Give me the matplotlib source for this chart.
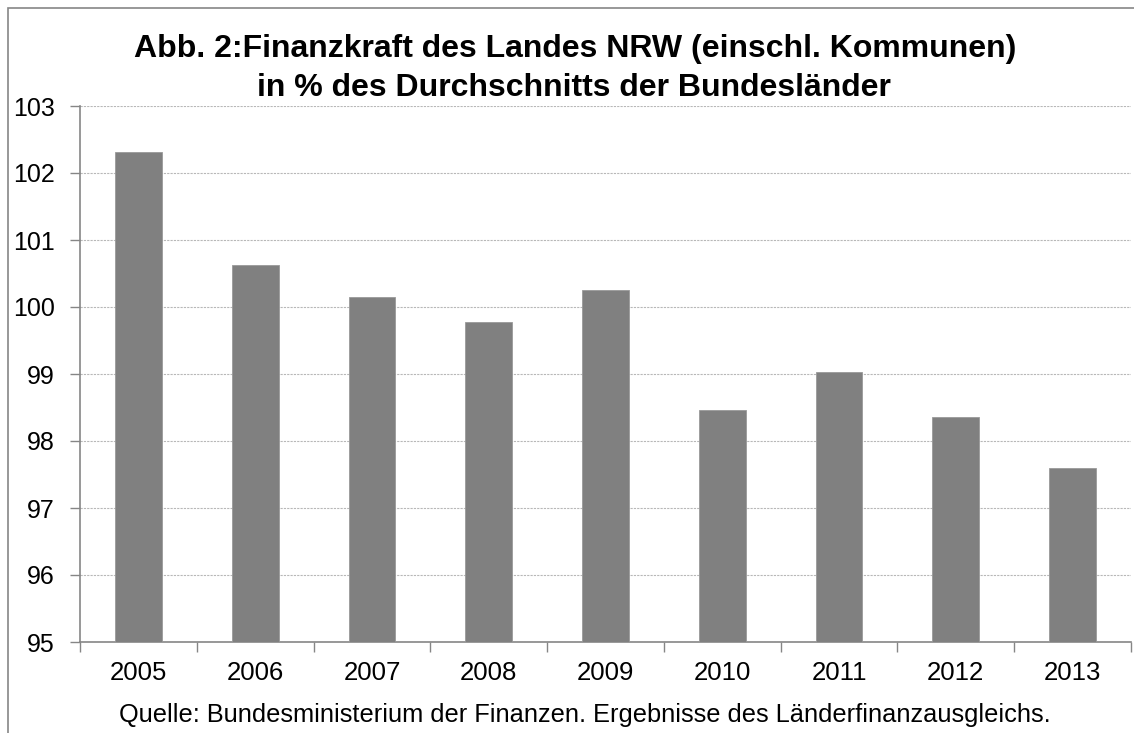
import matplotlib
matplotlib.use("Agg")
import matplotlib.pyplot as plt
from matplotlib.patches import Rectangle

years = ["2005", "2006", "2007", "2008", "2009", "2010", "2011", "2012", "2013"]
values = [102.31, 100.62, 100.15, 99.77, 100.25, 98.47, 99.03, 98.36, 97.59]
yticks = [95, 96, 97, 98, 99, 100, 101, 102, 103]

plt.rcParams['font.family'] = ['Liberation Sans', 'DejaVu Sans']

W, H = 1134, 733
fig = plt.figure(figsize=(W / 100, H / 100), dpi=100)
ax = fig.add_axes([80 / W, 1 - 642 / H, (1131 - 80) / W, (642 - 106) / H])

# bars from the baseline 95
x = range(len(years))
ax.bar(x, [v - 95 for v in values], bottom=95, width=0.4, color='#808080',
       edgecolor='#999999', linewidth=0.6, zorder=3)

ax.set_xlim(-0.5, len(years) - 0.5)
ax.set_ylim(95, 103)
ax.set_yticks(yticks)
ax.set_yticklabels([str(t) for t in yticks], fontsize=18)
ax.set_xticks(x)
ax.set_xticklabels(years, fontsize=18.5)
ax.set_xticks([i - 0.5 for i in range(len(years) + 1)], minor=True)

ax.tick_params(axis='x', which='major', length=0, pad=14)
ax.tick_params(axis='x', which='minor', length=7, color='#868686', width=1)
ax.tick_params(axis='y', length=7, color='#868686', width=1, pad=11)

ax.grid(axis='y', color='#b8b8b8', linestyle=(0, (2, 1)), linewidth=0.8, zorder=0)
for s in ['top', 'right']:
    ax.spines[s].set_visible(False)
for s in ['left', 'bottom']:
    ax.spines[s].set_color('#868686')
    ax.spines[s].set_linewidth(1.2)

fig.text(575 / W, 1 - 57 / H, "Abb. 2:Finanzkraft des Landes NRW (einschl. Kommunen)",
         ha='center', va='baseline', fontsize=23, fontweight='bold')
fig.text(574 / W, 1 - 96 / H, "in % des Durchschnitts der Bundesländer",
         ha='center', va='baseline', fontsize=23, fontweight='bold')
fig.text(585 / W, 1 - 722 / H,
         "Quelle: Bundesministerium der Finanzen. Ergebnisse des Länderfinanzausgleichs.",
         ha='center', va='baseline', fontsize=18.3)

# outer chart border (cut off at right and bottom)
fig.patches.append(Rectangle((8 / W, -0.1), 1.2, 1.1 - 8 / H, transform=fig.transFigure,
                             fill=False, edgecolor='#868686', linewidth=1.2))

fig.savefig("out.png", dpi=100)
